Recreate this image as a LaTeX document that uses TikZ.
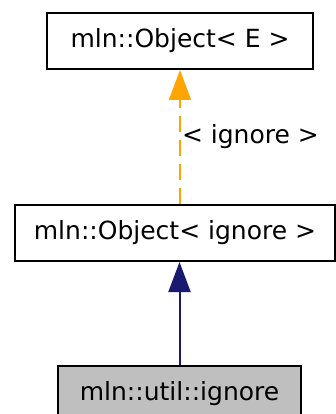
\documentclass[tikz,border=0pt]{standalone}
\usepackage{fontspec}
\setmainfont{DejaVu Sans}
\usetikzlibrary{arrows.meta,positioning}
\definecolor{edgeorange}{HTML}{FFA500}
\definecolor{edgenavy}{HTML}{191970}
\definecolor{classgray}{HTML}{BFBFBF}
\tikzset{
    every node/.style={font=\fontsize{25}{30}\selectfont},
    classbox/.style={rectangle, draw, line width=2pt, align=center, minimum height=56pt, inner xsep=0pt},
    inherit/.style={-{Triangle[length=30pt, width=22pt]}, line width=2pt},
    tmplinst/.style={inherit, dashed, dash pattern=on 16pt off 8pt}
}

\begin{document}
\begin{tikzpicture}[
    node distance=134pt and 0pt,
    % sizes in pixel units of the graph
]
\useasboundingbox (0,0) rectangle (335pt,-414pt);

\node[classbox, minimum width=266pt] (objE) at (180pt,-41pt) {mln::Object< E >};
\node[classbox, minimum width=320pt, below=134pt of objE, xshift=-5pt] (objIgn) {mln::Object< ignore >};
\node[classbox, fill=classgray, minimum width=243pt, below=103pt of objIgn, xshift=4.5pt] (ign) {mln::util::ignore};

\draw[tmplinst, edgeorange] (objIgn.north -| objE.south) -- node[right=0pt, inner xsep=1pt, text=black]{< ignore >} (objE.south);
\draw[inherit, edgenavy] (ign.north) -- (ign.north |- objIgn.south);

\end{tikzpicture}
\end{document}
